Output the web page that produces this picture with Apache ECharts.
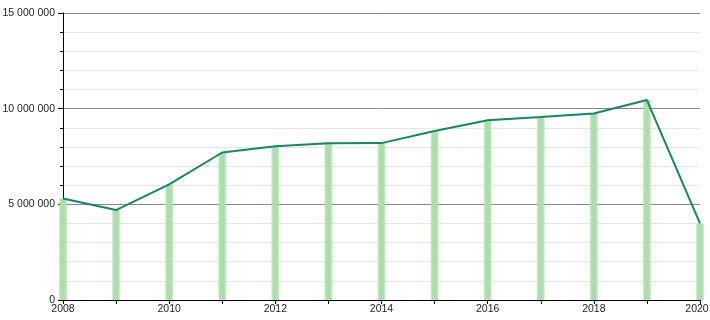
<!DOCTYPE html>
<html>
<head>
<meta charset="utf-8">
<script src="https://cdn.jsdelivr.net/npm/echarts@6/dist/echarts.min.js"></script>
<style>html,body{margin:0;padding:0;background:#fff;}#c{width:710px;height:320px;}</style>
</head>
<body>
<div id="c"></div>
<script>
var years = [2008, 2009, 2010, 2011, 2012, 2013, 2014, 2015, 2016, 2017, 2018, 2019, 2020];
var values = [5310000, 4700000, 6040000, 7710000, 8040000, 8190000, 8200000, 8830000, 9400000, 9560000, 9750000, 10450000, 4000000];
var yTicks = [0, 5000000, 10000000, 15000000];

function fmt(v) {
  return String(Math.round(v)).replace(/\B(?=(\d{3})+(?!\d))/g, ' ');
}
var pts = years.map(function (y, i) { return [y, values[i]]; });
var lastYear = years[years.length - 1];

var chart = echarts.init(document.getElementById('c'), null, {renderer: 'canvas'});
chart.setOption({
  animation: false,
  backgroundColor: '#ffffff',
  grid: {left: 63, right: 10, top: 13, bottom: 20, containLabel: false, outerBoundsMode: 'none'},
  xAxis: {
    type: 'value', min: 2008, max: 2020, interval: 1,
    axisLine: {show: true, onZero: false, lineStyle: {color: '#000', width: 1}},
    axisTick: {show: true, length: 4, lineStyle: {color: '#000'}},
    splitLine: {show: false},
    axisLabel: {
      color: '#222', fontSize: 10.5, fontFamily: 'Liberation Sans, Arial, sans-serif', margin: 4,
      formatter: function (v) {
        if (v % 2 !== 0) return '';
        return v === lastYear ? '{r|' + v + '}' : String(v);
      },
      rich: {r: {color: '#222', fontSize: 10.5, fontFamily: 'Liberation Sans, Arial, sans-serif', padding: [0, 6, 0, 0]}}
    }
  },
  yAxis: {
    type: 'value', min: 0, max: 15000000, interval: 5000000,
    axisLine: {show: true, lineStyle: {color: '#000', width: 1}},
    axisTick: {show: true, length: 5, lineStyle: {color: '#000'}},
    minorTick: {show: true, splitNumber: 5, length: 3, lineStyle: {color: '#000'}},
    splitLine: {show: true, lineStyle: {color: '#888', width: 1}},
    minorSplitLine: {show: true, lineStyle: {color: '#e6e6e6', width: 1}},
    axisLabel: {
      color: '#222', fontSize: 10.5, fontFamily: 'Liberation Sans, Arial, sans-serif', margin: 8,
      formatter: function (v) { return fmt(v); }
    }
  },
  series: [
    {
      type: 'bar', data: pts, barWidth: 8,
      itemStyle: {
        color: new echarts.graphic.LinearGradient(0, 0, 1, 0, [
          {offset: 0, color: 'rgba(176,224,176,0.55)'},
          {offset: 0.25, color: '#aadfaa'},
          {offset: 0.75, color: '#aadfaa'},
          {offset: 1, color: 'rgba(176,224,176,0.55)'}
        ])
      },
      z: 2
    },
    {
      type: 'line', data: pts, symbol: 'none',
      lineStyle: {color: '#0f8a68', width: 2},
      z: 3
    }
  ]
});
</script>
</body>
</html>
